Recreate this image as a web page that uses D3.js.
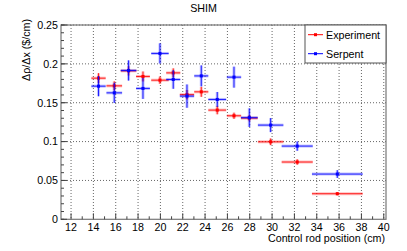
<!DOCTYPE html>
<html>
<head>
<meta charset="utf-8">
<script src="https://cdn.jsdelivr.net/npm/d3@7"></script>
<style>
  body { margin: 0; background: #fff; }
  svg { display: block; font-family: "Liberation Sans", Arial, Helvetica, sans-serif; }
</style>
</head>
<body>
<svg id="chart" width="407" height="251"></svg>
<script>
// control rod positions (bin centres) and half widths, cm
const rodPos = [14.46, 15.87, 17.15, 18.44, 19.96, 21.15, 22.38, 23.66, 25.09, 26.59, 27.96, 29.87, 32.25, 35.84];
const rodErr = [0.64, 0.70, 0.70, 0.62, 0.78, 0.63, 0.64, 0.63, 0.80, 0.64, 0.75, 1.14, 1.39, 2.27];

// differential worth, $/cm
const expVal = [0.1816, 0.1717, 0.1910, 0.1838, 0.1790, 0.1884, 0.1604, 0.1640, 0.1405, 0.1332, 0.1302, 0.0997, 0.0737, 0.0329];
const expErr = [0.0064, 0.0058, 0.0060, 0.0064, 0.0047, 0.0058, 0.0060, 0.0064, 0.0054, 0.0040, 0.0040, 0.0043, 0.0035, 0.0020];
const serpVal = [0.1713, 0.1627, 0.1915, 0.1684, 0.2134, 0.1799, 0.1585, 0.1845, 0.1542, 0.1829, 0.1308, 0.1212, 0.0942, 0.0582];
const serpErr = [0.0130, 0.0130, 0.0130, 0.0135, 0.0130, 0.0120, 0.0150, 0.0135, 0.0096, 0.0135, 0.0120, 0.0090, 0.0060, 0.0050];

const seriesNames = ["Experiment", "Serpent"];
const seriesColors = ["#ff0000", "#0000ff"];

const xTicks = d3.range(12, 41, 2);
const xMinor = d3.range(13, 41, 2);
const yTicks = [0, 0.05, 0.1, 0.15, 0.2, 0.25];
const yMinor = d3.range(0, 0.2501, 0.01);

const frame = {left: 61, right: 386, top: 25, bottom: 219.3};
const svg = d3.select("#chart");

const xScale = d3.scaleLinear().domain([11.1, 40.2]).range([frame.left, frame.right]);
const yScale = d3.scaleLinear().domain([0, 0.25]).range([frame.bottom, frame.top]);

// grid
svg.append("g").selectAll("line").data(xTicks).enter().append("line")
    .attr("x1", d => xScale(d)).attr("x2", d => xScale(d))
    .attr("y1", frame.top).attr("y2", frame.bottom)
    .attr("stroke", "#666").attr("stroke-dasharray", "1,2").attr("stroke-width", 1);
svg.append("g").selectAll("line").data(yTicks.slice(1)).enter().append("line")
    .attr("y1", d => yScale(d)).attr("y2", d => yScale(d))
    .attr("x1", frame.left).attr("x2", frame.right)
    .attr("stroke", "#666").attr("stroke-dasharray", "1,2").attr("stroke-width", 1);

// frame
svg.append("rect")
    .attr("x", frame.left).attr("y", frame.top)
    .attr("width", frame.right - frame.left).attr("height", frame.bottom - frame.top)
    .attr("fill", "none").attr("stroke", "#777").attr("stroke-width", 1.2);

// ticks
const ticks = svg.append("g").attr("stroke", "#444").attr("stroke-width", 1);
ticks.selectAll(".xmaj").data(xTicks).enter().append("line")
    .attr("x1", d => xScale(d)).attr("x2", d => xScale(d))
    .attr("y1", frame.bottom).attr("y2", frame.bottom - 6);
ticks.selectAll(".xmin").data(xMinor).enter().append("line")
    .attr("x1", d => xScale(d)).attr("x2", d => xScale(d))
    .attr("y1", frame.bottom).attr("y2", frame.bottom - 3);
ticks.selectAll(".ymin").data(yMinor).enter().append("line")
    .attr("y1", d => yScale(d)).attr("y2", d => yScale(d))
    .attr("x1", frame.left).attr("x2", frame.left + 3);
ticks.selectAll(".ymaj").data(yTicks).enter().append("line")
    .attr("y1", d => yScale(d)).attr("y2", d => yScale(d))
    .attr("x1", frame.left).attr("x2", frame.left + 6);

// tick labels
svg.append("g").selectAll("text").data(xTicks).enter().append("text")
    .attr("x", d => xScale(d)).attr("y", 231)
    .attr("text-anchor", "middle").attr("font-size", "10.7px").attr("fill", "#000")
    .text(d => d);
svg.append("g").selectAll("text").data(yTicks).enter().append("text")
    .attr("x", frame.left - 3).attr("y", d => yScale(d) + 3.8)
    .attr("text-anchor", "end").attr("font-size", "10.7px").attr("fill", "#000")
    .text(d => d3.format("~g")(d));

// titles
svg.append("text").attr("x", 203.5).attr("y", 12.3)
    .attr("text-anchor", "middle").attr("font-size", "10.7px").text("SHIM");
svg.append("text").attr("x", 385).attr("y", 242)
    .attr("text-anchor", "end").attr("font-size", "10.7px").text("Control rod position (cm)");
svg.append("text")
    .attr("transform", "translate(30,19) rotate(-90)")
    .attr("text-anchor", "end").attr("font-size", "10.7px").text("Δρ/Δx ($/cm)");

// data
function drawSeries(vals, errs, color) {
    const g = svg.append("g");
    const pts = rodPos.map((x, i) => ({x: x, xe: rodErr[i], y: vals[i], ye: errs[i]}));
    [[3, 0.25], [1, 0.85]].forEach(([w, op]) => {
        g.selectAll(null).data(pts).enter().append("line")
            .attr("x1", d => xScale(d.x - d.xe)).attr("x2", d => xScale(d.x + d.xe))
            .attr("y1", d => yScale(d.y)).attr("y2", d => yScale(d.y))
            .attr("stroke", color).attr("stroke-width", w).attr("stroke-opacity", op);
        g.selectAll(null).data(pts).enter().append("line")
            .attr("x1", d => xScale(d.x)).attr("x2", d => xScale(d.x))
            .attr("y1", d => yScale(d.y - d.ye)).attr("y2", d => yScale(d.y + d.ye))
            .attr("stroke", color).attr("stroke-width", w).attr("stroke-opacity", op);
    });
    g.selectAll("rect").data(pts).enter().append("rect")
        .attr("x", d => xScale(d.x) - 1.5).attr("y", d => yScale(d.y) - 1.5)
        .attr("width", 3).attr("height", 3).attr("fill", color);
}
drawSeries(expVal, expErr, seriesColors[0]);
drawSeries(serpVal, serpErr, seriesColors[1]);

// legend
const legend = svg.append("g");
legend.append("rect").attr("x", 305).attr("y", frame.top)
    .attr("width", frame.right - 305).attr("height", 38)
    .attr("fill", "#fff").attr("stroke", "#555").attr("stroke-width", 1);
seriesNames.forEach((name, i) => {
    const ly = 34.7 + i * 19;
    legend.append("line").attr("x1", 308).attr("x2", 323).attr("y1", ly).attr("y2", ly)
        .attr("stroke", seriesColors[i]).attr("stroke-width", 1);
    legend.append("rect").attr("x", 314).attr("y", ly - 1.5).attr("width", 3).attr("height", 3)
        .attr("fill", seriesColors[i]);
    legend.append("text").attr("x", 326).attr("y", ly + 3.8)
        .attr("font-size", "10.7px").text(name);
});
</script>
</body>
</html>
